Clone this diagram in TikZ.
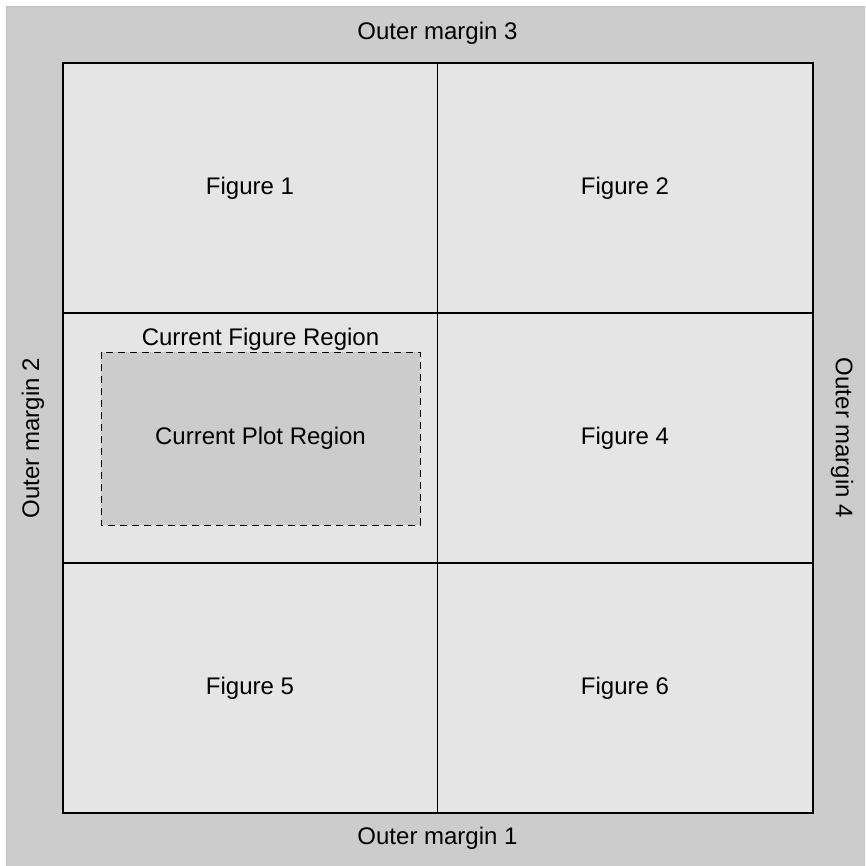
\documentclass[tikz,border=0pt]{standalone}
\usepackage{fontspec}
\setmainfont{Liberation Sans}
\usetikzlibrary{positioning}
\definecolor{margingray}{HTML}{CCCCCC}
\definecolor{figgray}{HTML}{E5E5E5}
\definecolor{edgegray}{HTML}{BEBEBE}
\tikzset{
	lbl/.style={font=\fontsize{24}{27}\selectfont, inner sep=0pt},
	gridline/.style={line width=1.6pt, black}
}
\begin{document}
\begin{tikzpicture}[x=1pt,y=-1pt]
	\useasboundingbox (0,0) rectangle (865,866);
	\clip (0,0) rectangle (865,866);
	\draw[edgegray, fill=margingray, line width=1pt] (6.5,6.5) rectangle (880,880);
	%
	\fill[figgray] (63,63) rectangle (813,813);
	\fill[margingray] (101,352) rectangle (420,525);
	\draw[dash pattern=on 7pt off 5pt, line width=1pt] (101,352) rectangle (420,525);
	\draw[gridline] (63,63) rectangle (813,813);
	\draw[gridline] (437.5,63) -- (437.5,813);
	\draw[gridline] (63,313) -- (813,313);
	\draw[gridline] (63,563) -- (813,563);
	%
	\node[lbl] (fig1) at (250,188) {Figure 1};
	\node[lbl] (fig2) at (625,188) {Figure 2};
	\node[lbl] (figreg) at (260.5,339) {Current Figure Region};
	\node[lbl] (plotreg) at (260.5,438) {Current Plot Region};
	\node[lbl] (fig4) at (625,438) {Figure 4};
	\node[lbl] (fig5) at (250,688) {Figure 5};
	\node[lbl] (fig6) at (625,688) {Figure 6};
	%
	\node[lbl] (om3) at (437.5,33) {Outer margin 3};
	\node[lbl] (om1) at (437.5,838) {Outer margin 1};
	\node[lbl, rotate=90] (om2) at (33,438) {Outer margin 2};
	\node[lbl, rotate=-90] (om4) at (842,438) {Outer margin 4};
\end{tikzpicture}
\end{document}
